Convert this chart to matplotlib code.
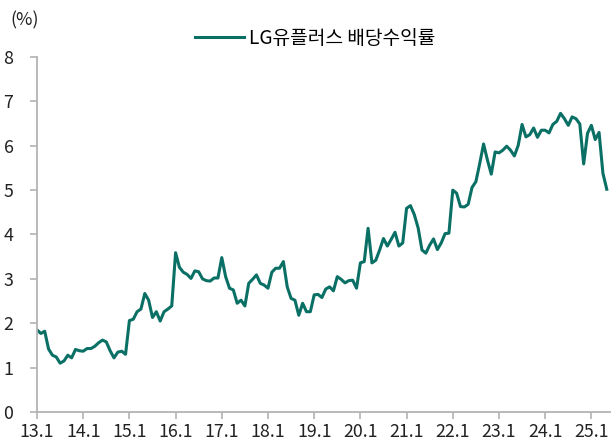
import matplotlib
matplotlib.use("Agg")
import matplotlib.pyplot as plt
import numpy as np

plt.rcParams['font.family'] = ['Noto Sans CJK KR', 'DejaVu Sans']

series_name = "LG유플러스 배당수익률"
tick_labels = ["13.1", "14.1", "15.1", "16.1", "17.1", "18.1", "19.1",
               "20.1", "21.1", "22.1", "23.1", "24.1", "25.1"]
y2013 = [1.85, 1.77, 1.82, 1.42, 1.28, 1.24, 1.10, 1.15, 1.28, 1.22, 1.41, 1.38]
y2014 = [1.37, 1.43, 1.43, 1.48, 1.56, 1.62, 1.58, 1.38, 1.22, 1.35, 1.37, 1.30]
y2015 = [2.06, 2.09, 2.26, 2.32, 2.67, 2.52, 2.13, 2.26, 2.05, 2.26, 2.32, 2.39]
y2016 = [3.59, 3.26, 3.15, 3.10, 3.01, 3.18, 3.16, 3.00, 2.96, 2.95, 3.02, 3.02]
y2017 = [3.48, 3.05, 2.79, 2.75, 2.45, 2.52, 2.39, 2.90, 2.99, 3.09, 2.90, 2.86]
y2018 = [2.79, 3.15, 3.24, 3.24, 3.39, 2.82, 2.56, 2.52, 2.18, 2.45, 2.26, 2.26]
y2019 = [2.64, 2.65, 2.58, 2.77, 2.82, 2.73, 3.05, 2.99, 2.91, 2.96, 2.97, 2.79]
y2020 = [3.36, 3.39, 4.14, 3.36, 3.42, 3.65, 3.91, 3.74, 3.89, 4.05, 3.74, 3.81]
y2021 = [4.59, 4.65, 4.45, 4.15, 3.65, 3.58, 3.76, 3.90, 3.66, 3.81, 4.02, 4.03]
y2022 = [5.00, 4.93, 4.63, 4.62, 4.68, 5.06, 5.19, 5.60, 6.04, 5.68, 5.36, 5.86]
y2023 = [5.84, 5.90, 5.99, 5.90, 5.77, 6.01, 6.48, 6.20, 6.25, 6.40, 6.19, 6.35]
y2024 = [6.35, 6.29, 6.48, 6.55, 6.73, 6.61, 6.46, 6.65, 6.61, 6.49, 5.59, 6.28]
y2025 = [6.46, 6.14, 6.30, 5.38, 5.02]

values = (y2013 + y2014 + y2015 + y2016 + y2017 + y2018 + y2019 + y2020 +
          y2021 + y2022 + y2023 + y2024 + y2025)
months = np.arange(len(values))

color = '#0a7065'
spine_c = '#b3b3b3'

fig = plt.figure(figsize=(6.11, 4.41), dpi=100)
ax = fig.add_axes([37/611, 29/441, 574/611, 355/441])
ax.plot(months, values, color=color, lw=2.2, label=series_name)

ax.set_xlim(0, 149.1)
ax.set_ylim(0, 8)
ax.set_xticks(np.arange(len(tick_labels)) * 12)
ax.set_xticklabels(tick_labels)
ax.set_yticks(range(0, 9))

for s in ['top', 'right']:
    ax.spines[s].set_visible(False)
for s in ['left', 'bottom']:
    ax.spines[s].set_color(spine_c)
    ax.spines[s].set_linewidth(1.3)
ax.tick_params(axis='both', colors=spine_c, length=5, width=1.2,
               labelcolor='#222222', labelsize=12.8, direction='out')
ax.tick_params(axis='y', pad=12)
ax.tick_params(axis='x', pad=3)

fig.text(10/611, 1 - 20/441, "(%)", fontsize=12.8, color='#222222',
         va='center', ha='left')
leg = ax.legend(loc='center', frameon=False, fontsize=13.8, handlelength=2.6,
                handletextpad=0.25)
leg.set_bbox_to_anchor((315/611, 1 - 38/441), transform=fig.transFigure)
fig.savefig("out.png", dpi=100)
